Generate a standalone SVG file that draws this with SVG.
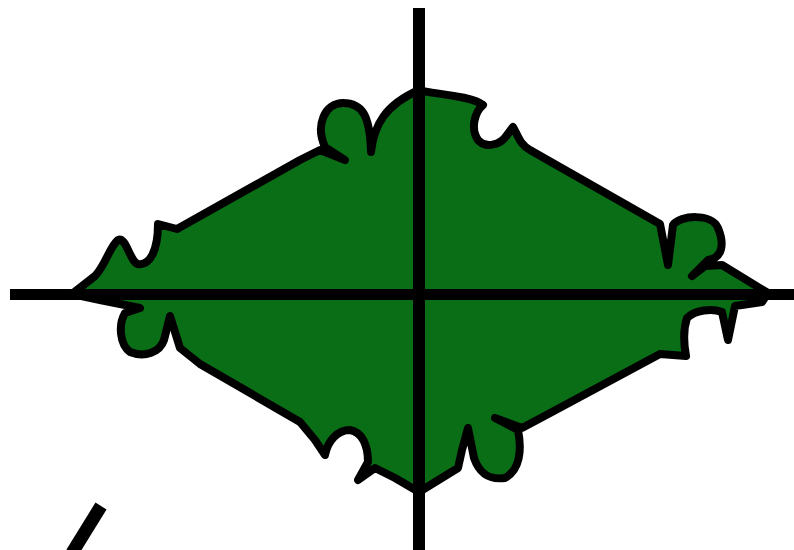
<svg xmlns="http://www.w3.org/2000/svg" width="794" height="550" viewBox="0 0 794 550">
<style>
.shape{fill:#0a6e17;stroke:#000;stroke-width:8;stroke-linejoin:round;stroke-linecap:round}
.axis{stroke:#000;fill:none}
</style>
<rect width="794" height="550" fill="#fff"/>
<g id="rhombus">
<path class="shape" d="M72,294 L95,276 C105,266 110,246 118,240 C126,236 130,262 138,264 C150,266 158,250 158,224 L177,229 L300,160 L320,150 L345,160 L325,147 C315,125 325,103 343,103 C362,103 370,115 371,152 C374,125 385,105 419,90 C430,94 470,95 483,105 C475,112 470,128 478,140 C485,148 500,146 507,135 L513,127 C518,135 520,145 530,150 L660,224 L668,265 L673,225 C680,215 712,213 718,228 C725,245 722,258 708,260 L692,276 L705,266 L722,265 L768,293 L762,302 L735,306 L728,340 L722,312 C712,308 695,310 687,318 C683,330 684,345 686,356 L660,354 L552,412 L522,428 L495,418 L518,430 C522,450 520,470 505,478 C490,480 480,475 474,458 L468,428 L462,450 L458,468 L419,492 L395,478 L375,468 L358,480 L368,462 C368,445 362,432 350,430 C338,430 328,440 325,455 L315,440 L300,422 L200,364 L180,348 L170,316 L164,340 C160,352 145,358 130,352 C120,345 118,325 125,313 L140,308 L100,300 Z"/>
</g>
<g id="axes">
<line class="axis" x1="419" y1="8" x2="419" y2="550" stroke-width="12"/>
<line class="axis" x1="10" y1="294.5" x2="794" y2="294.5" stroke-width="11"/>
<line class="axis" x1="101" y1="506" x2="72" y2="553" stroke-width="13"/>
</g>
</svg>
